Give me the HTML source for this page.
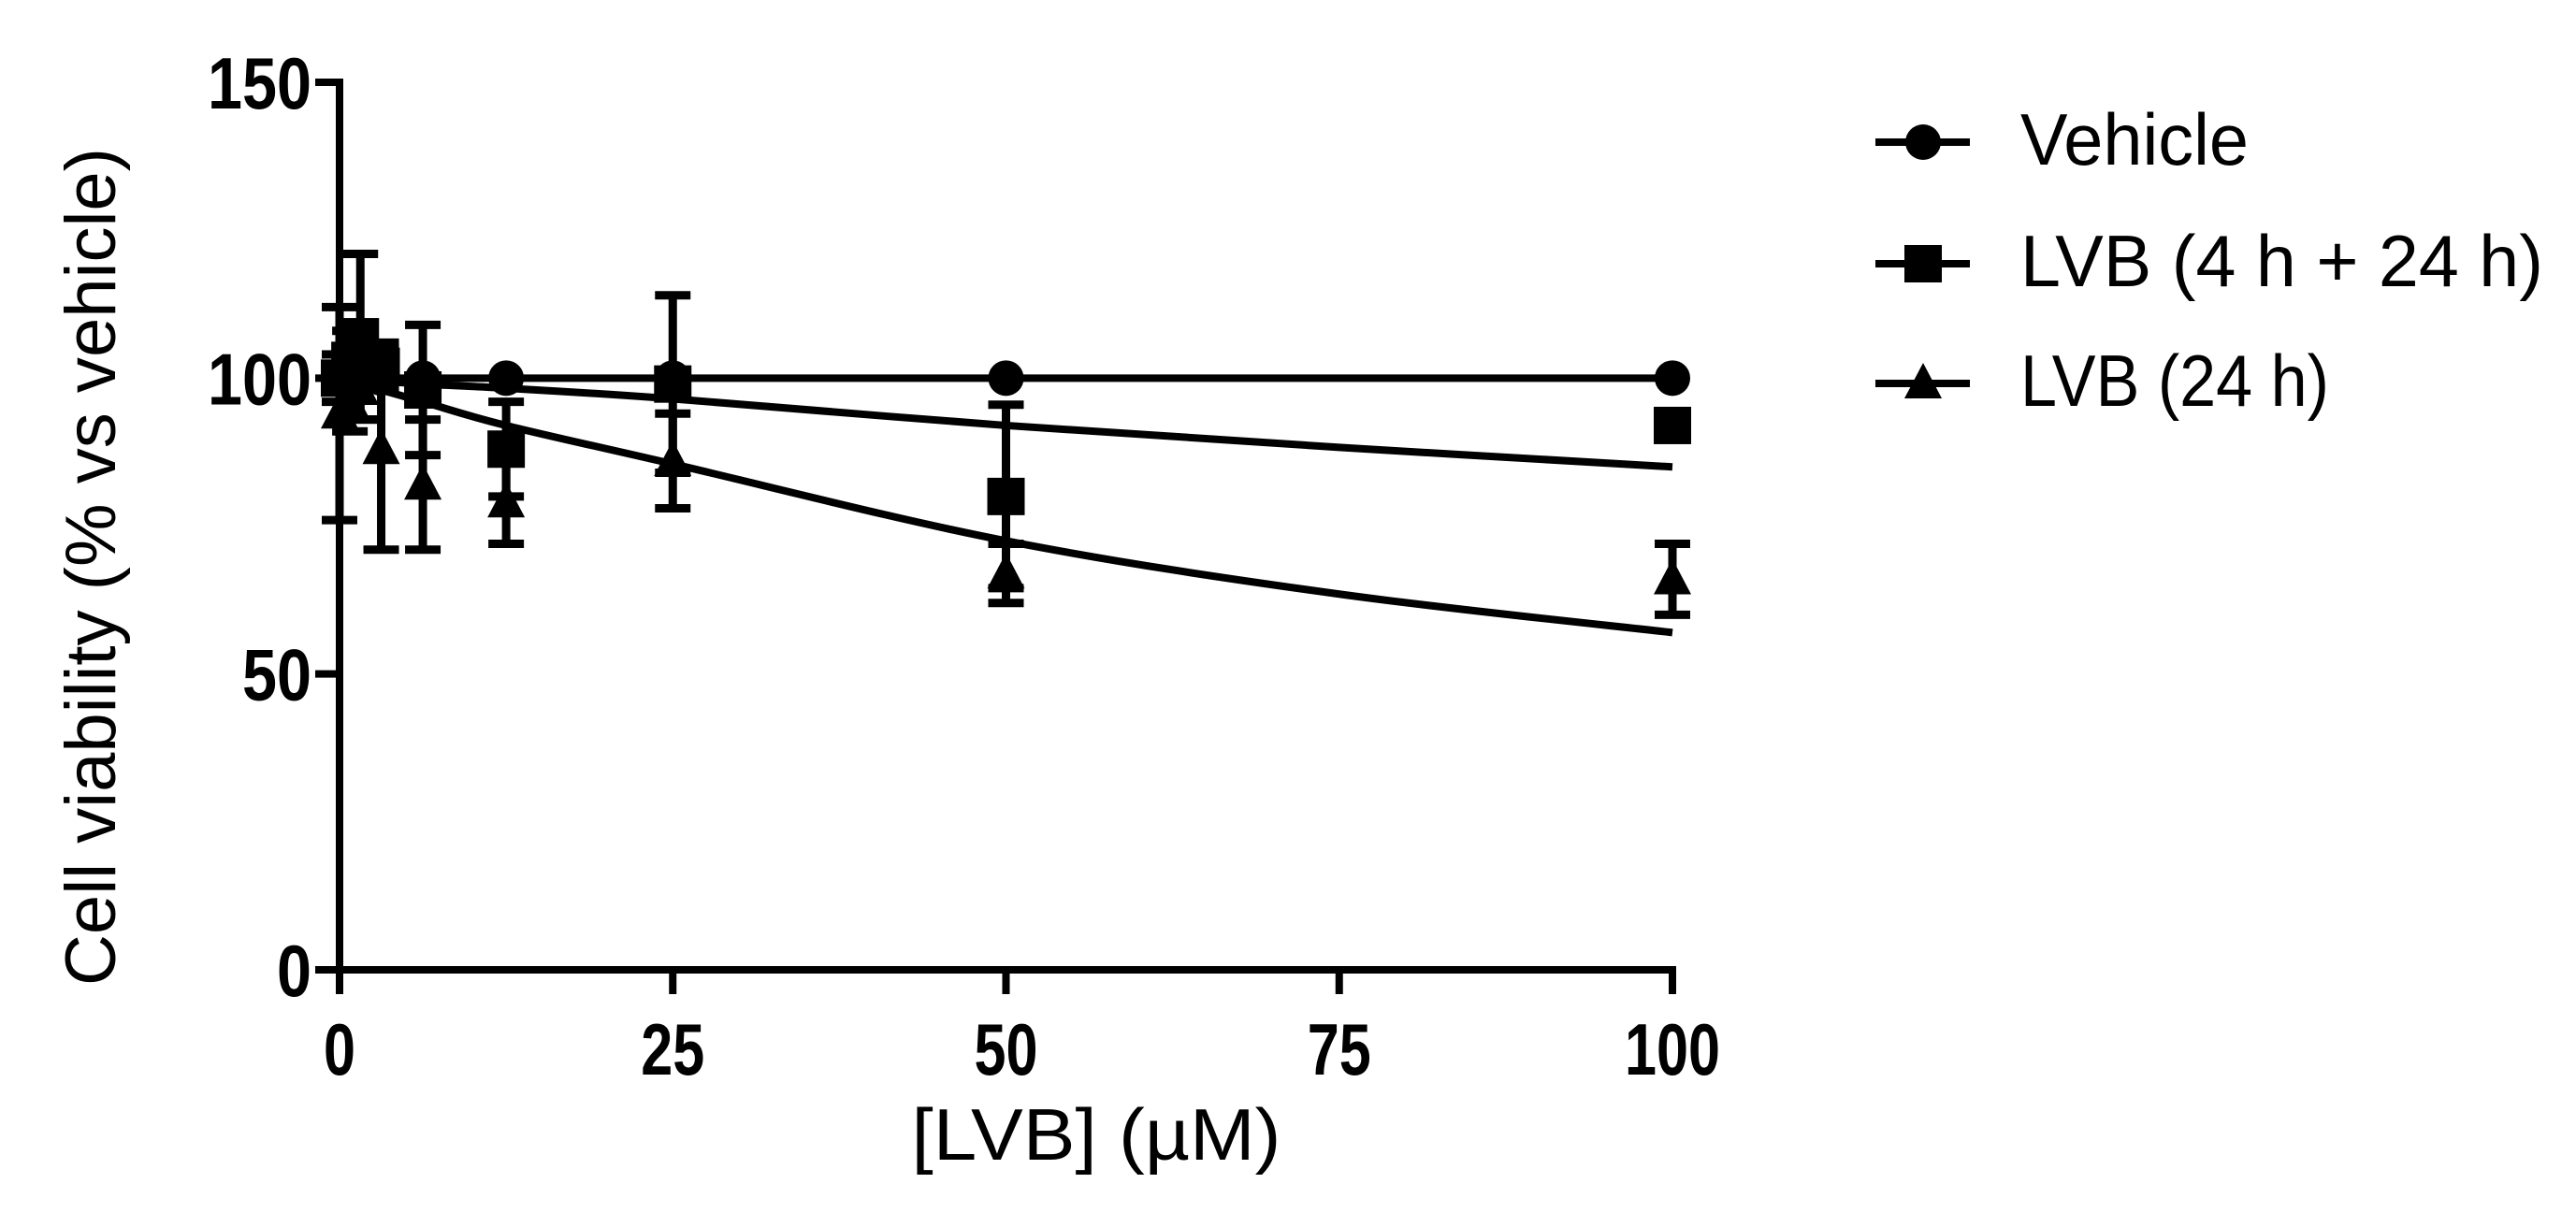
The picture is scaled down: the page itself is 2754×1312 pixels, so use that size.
<!DOCTYPE html>
<html><head><meta charset="utf-8"><style>
html,body{margin:0;padding:0;background:#fff;}
svg{display:block;font-family:"Liberation Sans",Arial,sans-serif;}
</style></head><body>
<svg id="chart" width="2754" height="1312" viewBox="0 0 2754 1312" xmlns="http://www.w3.org/2000/svg">
<rect width="2754" height="1312" fill="#fff"/>
<g id="axes"></g>
<g id="curves"></g>
<g id="marks"></g>
<text transform="translate(97,606) rotate(-90)" text-anchor="middle" font-size="76" textLength="896" lengthAdjust="spacingAndGlyphs" dy="26">Cell viability (% vs vehicle)</text>
<text x="1172" y="1240" text-anchor="middle" font-size="78" textLength="395" lengthAdjust="spacingAndGlyphs">[LVB] (µM)</text>
<g id="legend"></g>
</svg>
<script>
const xTicks=[0,25,50,75,100];
const yTicks=[0,50,100,150];
const concX=[0,0.78,1.56,3.125,6.25,12.5,25,50,100];
const vehicleY=[100,100,100,100,100,100,100,100,100];
const vehicleErr=[0,0,0,0,0,0,0,0,0];
const sqY=[100,103,107,102,98,88,99,80,92];
const sqErr=[4,5,14,4,11,8,15,15.5,0];
const triY=[94,96,98,88,82,79,86,67,66];
const triErr=[18,5,5,17,11,7,8,5,6];
const fitX=[0,6.25,12.5,25,50,75,100];
const fitSqY=[100,99,98.3,96.5,92,88.3,85];
const fitTriY=[100,96,92,85.5,72.5,63.5,57];
const seriesNames=["Vehicle","LVB (4 h + 24 h)","LVB (24 h)"];

const NS="http://www.w3.org/2000/svg";
const X0=363,X1=1788,Y0=1037,Y150=88;
const sx=v=>X0+(X1-X0)*v/100;
const sy=v=>Y0-(Y0-Y150)*v/150;
function mk(tag,attrs,parent){const e=document.createElementNS(NS,tag);for(const k in attrs)e.setAttribute(k,attrs[k]);parent.appendChild(e);return e;}
const axes=document.getElementById('axes');
let a=mk('path',{d:`M${X0},${Y150} V${Y0} H${X1}`,stroke:'#000','stroke-width':8,fill:'none','stroke-linecap':'square'},axes);


yTicks.forEach(v=>{
  const t=mk('line',{x1:X0-26,x2:X0,y1:sy(v),y2:sy(v),stroke:'#000','stroke-width':8},axes);
  
  
  const l=mk('text',{x:X0-30,y:sy(v)+28,'text-anchor':'end','font-size':78,'font-weight':'bold',textLength:String(v).length*37,lengthAdjust:'spacingAndGlyphs'},axes);
  l.textContent=v;
  
  
});
xTicks.forEach(v=>{
  const t=mk('line',{x1:sx(v),x2:sx(v),y1:Y0,y2:Y0+26,stroke:'#000','stroke-width':8},axes);
  
  
  const l=mk('text',{x:sx(v),y:Y0+112,'text-anchor':'middle','font-size':78,'font-weight':'bold',textLength:String(v).length*34,lengthAdjust:'spacingAndGlyphs'},axes);
  l.textContent=v;
  
  
});
function smooth(xs,ys){
  const p=xs.map((x,i)=>[sx(x),sy(ys[i])]);
  let d=`M${p[0][0]},${p[0][1]}`;
  for(let i=0;i<p.length-1;i++){
    const p0=p[i-1]||p[i],p1=p[i],p2=p[i+1],p3=p[i+2]||p2;
    const c1=[p1[0]+(p2[0]-p0[0])/6,p1[1]+(p2[1]-p0[1])/6];
    const c2=[p2[0]-(p3[0]-p1[0])/6,p2[1]-(p3[1]-p1[1])/6];
    d+=` C${c1[0]},${c1[1]} ${c2[0]},${c2[1]} ${p2[0]},${p2[1]}`;
  }
  return d;
}
const curves=document.getElementById('curves');
let c=mk('line',{x1:sx(0),x2:sx(100),y1:sy(vehicleY[0]),y2:sy(vehicleY[vehicleY.length-1]),stroke:'#000','stroke-width':8},curves);


c=mk('path',{d:smooth(fitX,fitSqY),stroke:'#000','stroke-width':8,fill:'none'},curves);


c=mk('path',{d:smooth(fitX,fitTriY),stroke:'#000','stroke-width':8,fill:'none'},curves);


function marker(shape,cx,cy,parent){
  let m;
  if(shape==='circle') m=mk('circle',{cx,cy,r:19,fill:'#000'},parent);
  else if(shape==='square') m=mk('rect',{x:cx-20,y:cy-20,width:40,height:40,fill:'#000'},parent);
  else m=mk('polygon',{points:`${cx},${cy-22} ${cx+20},${cy+16} ${cx-20},${cy+16}`,fill:'#000'},parent);
  return m;
}
const marks=document.getElementById('marks');
function drawSeries(ys,errs,shape,name){
  concX.forEach((x,i)=>{
    const X=sx(x),Y=sy(ys[i]);
    if(errs[i]>0){
      const top=sy(ys[i]+errs[i]),bot=sy(ys[i]-errs[i]);
      const e=mk('path',{d:`M${X},${top} V${bot} M${X-19},${top} H${X+19} M${X-19},${bot} H${X+19}`,stroke:'#000','stroke-width':9,fill:'none'},marks);
      
      
    }
    const m=marker(shape,X,Y,marks);
    
    
  });
}
drawSeries(triY,triErr,'triangle','lvb-24h');
drawSeries(sqY,sqErr,'square','lvb-4h-24h');
drawSeries(vehicleY,vehicleErr,'circle','vehicle');
const legend=document.getElementById('legend');
const shapes=['circle','square','triangle'];
const legY=[152,282,410];
const legLen=[244,559,330];
seriesNames.forEach((n,i)=>{
  const g=mk('g',{},legend);
  
  
  mk('line',{x1:2005,x2:2106,y1:legY[i],y2:legY[i],stroke:'#000','stroke-width':8},g);
  marker(shapes[i],2056,legY[i],g);
  const t=mk('text',{x:2160,y:legY[i]+24,'font-size':78,textLength:legLen[i],lengthAdjust:'spacingAndGlyphs'},g);
  t.textContent=n;
  
  
});
</script>
</body></html>
